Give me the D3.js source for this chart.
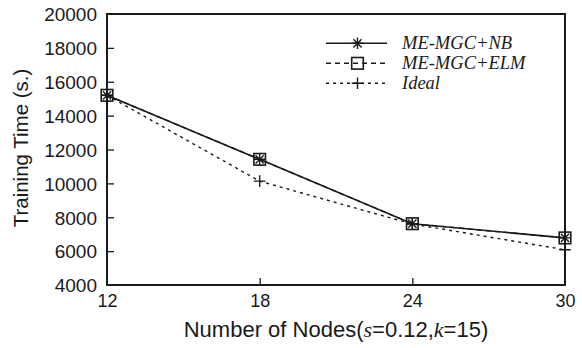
<!DOCTYPE html>
<html><head><meta charset="utf-8">
<script src="https://cdn.jsdelivr.net/npm/d3@7"></script>
<style>body{margin:0;background:#fff}svg{display:block}</style>
</head><body>
<svg id="c" width="582" height="348"></svg>
<script>
const nodes = [12, 18, 24, 30];
const nbValues = [15200, 11420, 7620, 6780];
const elmValues = [15200, 11420, 7620, 6780];
const idealValues = [15200, 10130, 7600, 6080];
const yTicks = [4000, 6000, 8000, 10000, 12000, 14000, 16000, 18000, 20000];
const seriesNames = ["ME-MGC+NB", "ME-MGC+ELM", "Ideal"];

const svg = d3.select("#c");
const L = 107, R = 565, T = 14, B = 285;
const x = d3.scaleLinear().domain([12, 30]).range([L, R]);
const y = d3.scaleLinear().domain([4000, 20000]).range([B, T]);
const ink = "#1a1a1a";
const sans = "Liberation Sans, Arial, sans-serif";
const serif = "Liberation Serif, Times New Roman, serif";

// axes with inward ticks
const gy = svg.append("g").attr("transform", `translate(${L},0)`)
  .call(d3.axisLeft(y).tickValues(yTicks).tickSizeInner(-7).tickSizeOuter(0).tickPadding(10).tickFormat(d3.format("d")));
const gx = svg.append("g").attr("transform", `translate(0,${B})`)
  .call(d3.axisBottom(x).tickValues(nodes).tickSizeInner(-7).tickSizeOuter(0).tickPadding(10));
[gy, gx].forEach(g => {
  g.select(".domain").remove();
  g.selectAll(".tick line").attr("stroke", ink).attr("stroke-width", 1.3);
  g.selectAll(".tick text").attr("fill", ink).style("font-family", sans).style("font-size", "18px");
});
gy.selectAll(".tick text").attr("dy", "0.36em").style("font-size", "19px");
gx.selectAll(".tick text").attr("y", 0).attr("dy", 22);
gx.selectAll(".tick line").filter(d => d === 12 || d === 30).remove();
gy.selectAll(".tick line").filter(d => d === 4000 || d === 20000).remove();

// frame
svg.append("rect").attr("x", L).attr("y", T).attr("width", R - L).attr("height", B - T)
  .attr("fill", "none").attr("stroke", ink).attr("stroke-width", 2);

// axis titles
svg.append("text").attr("transform", `translate(28,148) rotate(-90)`)
  .attr("text-anchor", "middle").attr("fill", ink)
  .style("font-family", sans).style("font-size", "20.5px").text("Training Time (s.)");
const xt = svg.append("text").attr("x", 336).attr("y", 337).attr("text-anchor", "middle").attr("fill", ink)
  .style("font-family", sans).style("font-size", "22px");
xt.append("tspan").text("Number of Nodes(");
xt.append("tspan").style("font-family", serif).style("font-style", "italic").text("s");
xt.append("tspan").text("=0.12,");
xt.append("tspan").style("font-family", serif).style("font-style", "italic").text("k");
xt.append("tspan").text("=15)");

const line = d3.line().x((d, i) => x(nodes[i])).y(d => y(d));

function asterisk(g, cx, cy, r) {
  const p = d3.path();
  for (let k = 0; k < 4; k++) {
    const a = k * Math.PI / 4;
    p.moveTo(cx - r * Math.cos(a), cy - r * Math.sin(a));
    p.lineTo(cx + r * Math.cos(a), cy + r * Math.sin(a));
  }
  g.append("path").attr("d", p.toString()).attr("stroke", ink).attr("stroke-width", 1.4).attr("fill", "none");
}
function square(g, cx, cy, r) {
  g.append("rect").attr("x", cx - r).attr("y", cy - r).attr("width", 2 * r).attr("height", 2 * r)
    .attr("fill", "none").attr("stroke", ink).attr("stroke-width", 1.6);
}
function plus(g, cx, cy, r) {
  g.append("path").attr("d", `M${cx - r},${cy}H${cx + r}M${cx},${cy - r}V${cy + r}`)
    .attr("stroke", ink).attr("stroke-width", 1.4).attr("fill", "none");
}

const series = [
  { name: seriesNames[0], vals: nbValues, dash: null, mark: asterisk, w: 1.6 },
  { name: seriesNames[1], vals: elmValues, dash: "5,4", mark: square, w: 1.4 },
  { name: seriesNames[2], vals: idealValues, dash: "3,4", mark: plus, w: 1.4 }
];
const plot = svg.append("g");
series.slice().reverse().forEach(s => {
  plot.append("path").attr("d", line(s.vals)).attr("fill", "none").attr("stroke", ink)
    .attr("stroke-width", s.w).attr("stroke-dasharray", s.dash);
});
series.slice().reverse().forEach(s => {
  s.vals.forEach((v, i) => s.mark(plot, x(nodes[i]), y(v), 5.8));
});

// legend
const leg = svg.append("g");
series.forEach((s, i) => {
  const ly = 43.3 + i * 20;
  leg.append("line").attr("x1", 326).attr("x2", 387).attr("y1", ly).attr("y2", ly)
    .attr("stroke", ink).attr("stroke-width", s.w).attr("stroke-dasharray", s.dash);
  s.mark(leg, 357.5, ly, 5.8);
  leg.append("text").attr("x", 402).attr("y", ly + 6).attr("fill", ink)
    .style("font-family", serif).style("font-style", "italic").style("font-size", "18.5px").text(s.name);
});
</script>
</body></html>
